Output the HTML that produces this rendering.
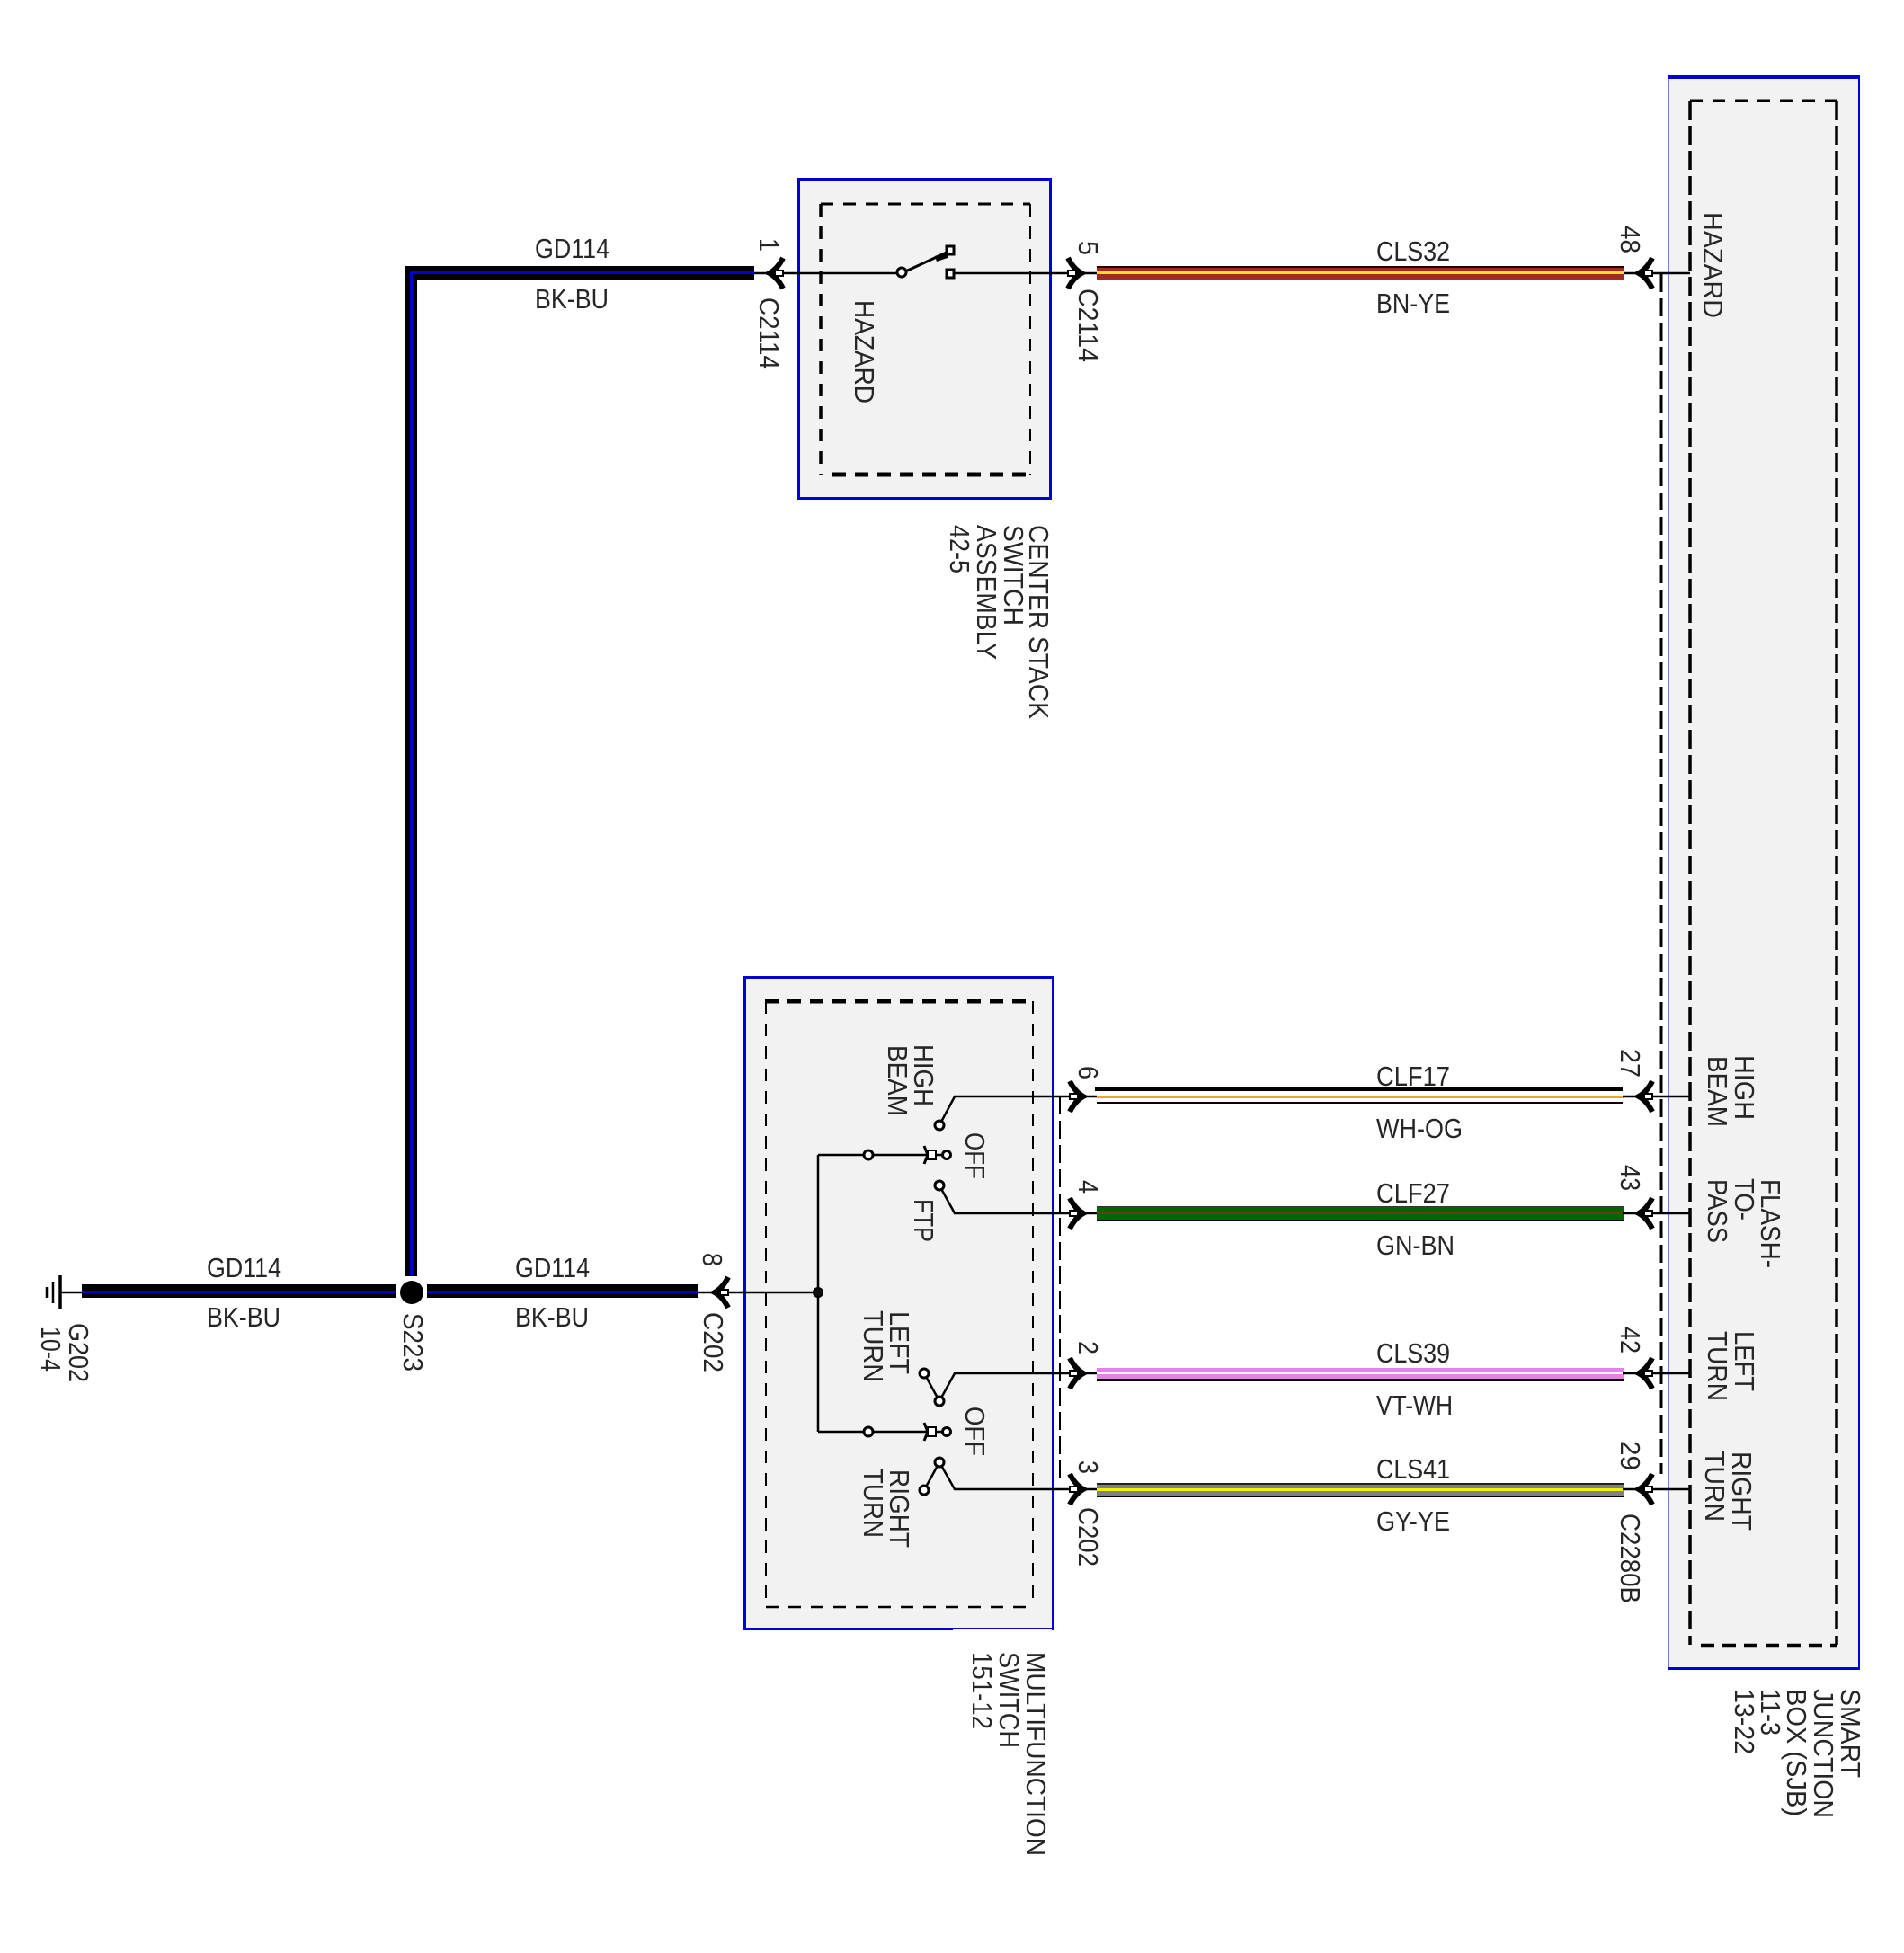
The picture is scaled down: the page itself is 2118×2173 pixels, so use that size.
<!DOCTYPE html>
<html><head><meta charset="utf-8"><style>
html,body{margin:0;padding:0;background:#fff}
svg{display:block}
text{font-family:"Liberation Sans",Arial,sans-serif;font-size:31px;fill:#262626}
</style></head><body>
<svg xmlns="http://www.w3.org/2000/svg" width="2118" height="2173" viewBox="0 0 2118 2173">
<defs>
<g id="ar"><path d="M-15 -17 Q-9 -5 0 0 Q-9 5 -15 17" fill="none" stroke="#000" stroke-width="6"/><path d="M-9 -4 L1 0 L-9 4Z" fill="#000" stroke="#000" stroke-width="3"/><rect x="-15" y="-3" width="9" height="6" fill="#fff" stroke="#000" stroke-width="2"/></g>
<g id="al"><path d="M15 -17 Q9 -5 0 0 Q9 5 15 17" fill="none" stroke="#000" stroke-width="6"/><path d="M9 -4 L-1 0 L9 4Z" fill="#000" stroke="#000" stroke-width="3"/><rect x="6" y="-3" width="9" height="6" fill="#fff" stroke="#000" stroke-width="2"/></g>
</defs>
<!-- boxes -->
<rect x="888" y="199" width="281" height="355" fill="#f2f2f2"/>
<rect x="827" y="1087" width="344" height="726" fill="#f2f2f2"/>
<rect x="1855" y="83" width="213" height="1775" fill="#f2f2f2"/>
<g fill="#0000d8" shape-rendering="crispEdges">
<rect x="887" y="198" width="283" height="3"/><rect x="887" y="553" width="283" height="3"/><rect x="887" y="198" width="3" height="358"/><rect x="1167" y="198" width="3" height="358"/>
<rect x="826" y="1086" width="346" height="3"/><rect x="826" y="1811" width="234" height="3"/><rect x="1060" y="1811" width="112" height="2"/><rect x="826" y="1086" width="4" height="728"/><rect x="1170" y="1086" width="2" height="728"/>
<rect x="1855" y="83" width="214" height="5"/><rect x="1855" y="1855" width="214" height="3"/><rect x="2067" y="83" width="2" height="1775"/>
</g>
<rect x="1855" y="83" width="1.5" height="1775" fill="#0000c8"/>
<!-- dashed -->
<g fill="none" stroke="#000" stroke-dasharray="14 11">
<path d="M913 227H1146" stroke-width="3"/><path d="M913 227V528" stroke-width="3.5"/><path d="M1146 227V528" stroke-width="2"/><path d="M926 528H1146" stroke-width="5" stroke-dasharray="15 10"/>
<path d="M851 1114H1149" stroke-width="5" stroke-dasharray="15 10"/><path d="M852 1114V1788" stroke-width="2"/><path d="M1149 1114V1788" stroke-width="2"/><path d="M852 1788H1149" stroke-width="2.5"/>
<path d="M1880 112H2043" stroke-width="3"/><path d="M1880 112V1830" stroke-width="3.5" stroke-dasharray="21 7"/><path d="M2043 112V1830" stroke-width="3.5" stroke-dasharray="21 7"/><path d="M1892 1831H2043" stroke-width="4.5" stroke-dasharray="15 9"/>
<path d="M1848 305V1640" stroke-width="3" stroke-dasharray="20 7"/><path d="M1179 1220V1650" stroke-width="2" stroke-dasharray="20 7"/>
</g>
<!-- thick wires -->
<g shape-rendering="crispEdges">
<rect x="450" y="296" width="389" height="15" fill="#000"/><rect x="450" y="296" width="14" height="1124" fill="#000"/>
<rect x="456" y="301" width="383" height="4" fill="#0000d0"/><rect x="456" y="301" width="3" height="1119" fill="#0000d0"/>
<rect x="91" y="1429" width="350" height="15" fill="#000"/><rect x="91" y="1436" width="350" height="3" fill="#0000c8"/>
<rect x="475" y="1429" width="302" height="15" fill="#000"/><rect x="475" y="1436" width="302" height="3" fill="#0000c8"/>
<rect x="1220" y="296" width="586" height="15" fill="#a52a1e"/><rect x="1220" y="296" width="586" height="2" fill="#200"/><rect x="1220" y="302" width="586" height="3" fill="#ffe020"/>
<rect x="1218" y="1210" width="587" height="4" fill="#000"/><rect x="1220" y="1219" width="586" height="3" fill="#e8a820"/><rect x="1220" y="1226" width="585" height="2" fill="#000"/>
<rect x="1220" y="1342" width="586" height="17" fill="#006400"/><rect x="1220" y="1342" width="586" height="1" fill="#333"/><rect x="1220" y="1357" width="586" height="2" fill="#000"/><rect x="1220" y="1349" width="586" height="2" fill="#6a3a1a"/>
<rect x="1220" y="1522" width="586" height="15" fill="#e880e8"/><rect x="1220" y="1527" width="586" height="2" fill="#fff"/><rect x="1220" y="1534" width="586" height="3" fill="#000"/>
<rect x="1220" y="1650" width="586" height="16" fill="#808080"/><rect x="1220" y="1650" width="586" height="2" fill="#222"/><rect x="1220" y="1664" width="586" height="2" fill="#000"/><rect x="1220" y="1656" width="586" height="3" fill="#f0f000"/>
</g>
<!-- thin wires -->
<g fill="none" stroke="#000" stroke-width="2.5">
<path d="M839 304H1003"/><path d="M1059 304H1220"/><path d="M1806 304H1880"/>
<path d="M68 1438H91"/><path d="M777 1438H910"/>
<path d="M1045 1252L1062 1220H1220"/><path d="M1045 1319L1062 1350H1220"/><path d="M1028 1528L1045 1559L1062 1528H1220"/><path d="M1028 1658L1045 1627L1062 1657H1220"/>
<path d="M1805 1220H1880"/><path d="M1805 1350H1880"/><path d="M1805 1528H1880"/><path d="M1805 1657H1880"/>
<path d="M910 1285V1593"/><path d="M910 1285H1048"/><path d="M910 1593H1048"/>
<path d="M67 1419V1456" stroke-width="3.5"/><path d="M59 1426V1450"/><path d="M52 1432V1444"/>
</g>
<!-- hazard switch -->
<path d="M1003 304L1057 279" stroke="#000" stroke-width="3"/><path d="M1040 285L1055 279L1054 287L1042 291Z" fill="#000"/>
<circle cx="1003" cy="303" r="5" fill="#fff" stroke="#000" stroke-width="3"/>
<rect x="1053" y="274" width="8" height="9" fill="#fff" stroke="#000" stroke-width="3"/><rect x="1053" y="300" width="8" height="9" fill="#fff" stroke="#000" stroke-width="3"/>
<!-- terminals -->
<g fill="#fff" stroke="#000" stroke-width="3">
<circle cx="1045" cy="1252" r="5"/><circle cx="1045" cy="1319" r="5"/><circle cx="1028" cy="1528" r="5"/><circle cx="1045" cy="1559" r="5"/><circle cx="1045" cy="1627" r="5"/><circle cx="1028" cy="1658" r="5"/>
<circle cx="966" cy="1285" r="5"/><circle cx="966" cy="1593" r="5"/><circle cx="1053" cy="1285" r="4.5"/><circle cx="1053" cy="1593" r="4.5"/>
</g>
<circle cx="910" cy="1438" r="5" fill="#111" stroke="#000" stroke-width="2"/>
<!-- small OFF connectors -->
<g fill="none" stroke="#000" stroke-width="3">
<path d="M1028 1275L1032 1285L1028 1295"/><path d="M1032 1280H1041V1290H1032Z" fill="#fff" stroke-width="2"/>
<path d="M1028 1583L1032 1593L1028 1603"/><path d="M1032 1588H1041V1598H1032Z" fill="#fff" stroke-width="2"/>
</g>
<!-- splice -->
<circle cx="458" cy="1438" r="17" fill="#fff"/><circle cx="458" cy="1438" r="13" fill="#000"/>
<!-- connectors -->
<use href="#ar" x="1203" y="304"/><use href="#ar" x="1205" y="1220"/><use href="#ar" x="1205" y="1350"/><use href="#ar" x="1205" y="1528"/><use href="#ar" x="1205" y="1657"/>
<use href="#al" x="856" y="304"/><use href="#al" x="795" y="1438"/><use href="#al" x="1823" y="304"/><use href="#al" x="1823" y="1220"/><use href="#al" x="1823" y="1350"/><use href="#al" x="1823" y="1528"/><use href="#al" x="1823" y="1657"/>
<!-- horizontal labels -->
<text x="595" y="287" textLength="83" lengthAdjust="spacingAndGlyphs">GD114</text>
<text x="595" y="343" textLength="82" lengthAdjust="spacingAndGlyphs">BK-BU</text>
<text x="230" y="1421" textLength="83" lengthAdjust="spacingAndGlyphs">GD114</text>
<text x="230" y="1476" textLength="82" lengthAdjust="spacingAndGlyphs">BK-BU</text>
<text x="573" y="1421" textLength="83" lengthAdjust="spacingAndGlyphs">GD114</text>
<text x="573" y="1476" textLength="82" lengthAdjust="spacingAndGlyphs">BK-BU</text>
<text x="1531" y="290" textLength="82" lengthAdjust="spacingAndGlyphs">CLS32</text>
<text x="1531" y="348" textLength="82" lengthAdjust="spacingAndGlyphs">BN-YE</text>
<text x="1531" y="1208" textLength="82" lengthAdjust="spacingAndGlyphs">CLF17</text>
<text x="1531" y="1266" textLength="96" lengthAdjust="spacingAndGlyphs">WH-OG</text>
<text x="1531" y="1338" textLength="82" lengthAdjust="spacingAndGlyphs">CLF27</text>
<text x="1531" y="1396" textLength="87" lengthAdjust="spacingAndGlyphs">GN-BN</text>
<text x="1531" y="1516" textLength="82" lengthAdjust="spacingAndGlyphs">CLS39</text>
<text x="1531" y="1574" textLength="85" lengthAdjust="spacingAndGlyphs">VT-WH</text>
<text x="1531" y="1645" textLength="82" lengthAdjust="spacingAndGlyphs">CLS41</text>
<text x="1531" y="1703" textLength="82" lengthAdjust="spacingAndGlyphs">GY-YE</text>
<!-- rotated labels -->
<text transform="translate(845,265) rotate(90)" textLength="15" lengthAdjust="spacingAndGlyphs">1</text>
<text transform="translate(845,331) rotate(90)" textLength="80" lengthAdjust="spacingAndGlyphs">C2114</text>
<text transform="translate(951,334) rotate(90)" textLength="115" lengthAdjust="spacingAndGlyphs">HAZARD</text>
<text transform="translate(1200,268) rotate(90)" textLength="16" lengthAdjust="spacingAndGlyphs">5</text>
<text transform="translate(1200,321) rotate(90)" textLength="82" lengthAdjust="spacingAndGlyphs">C2114</text>
<text transform="translate(1145,584) rotate(90)" textLength="216" lengthAdjust="spacingAndGlyphs">CENTER  STACK</text>
<text transform="translate(1117,584) rotate(90)" textLength="112" lengthAdjust="spacingAndGlyphs">SWITCH</text>
<text transform="translate(1087,584) rotate(90)" textLength="150" lengthAdjust="spacingAndGlyphs">ASSEMBLY</text>
<text transform="translate(1057,584) rotate(90)" textLength="54" lengthAdjust="spacingAndGlyphs">42-5</text>
<text transform="translate(1017,1162) rotate(90)" textLength="69" lengthAdjust="spacingAndGlyphs">HIGH</text>
<text transform="translate(988,1163) rotate(90)" textLength="79" lengthAdjust="spacingAndGlyphs">BEAM</text>
<text transform="translate(1074,1260) rotate(90)" textLength="52" lengthAdjust="spacingAndGlyphs">OFF</text>
<text transform="translate(1017,1334) rotate(90)" textLength="48" lengthAdjust="spacingAndGlyphs">FTP</text>
<text transform="translate(990,1459) rotate(90)" textLength="70" lengthAdjust="spacingAndGlyphs">LEFT</text>
<text transform="translate(961,1458) rotate(90)" textLength="80" lengthAdjust="spacingAndGlyphs">TURN</text>
<text transform="translate(1074,1565) rotate(90)" textLength="55" lengthAdjust="spacingAndGlyphs">OFF</text>
<text transform="translate(990,1635) rotate(90)" textLength="87" lengthAdjust="spacingAndGlyphs">RIGHT</text>
<text transform="translate(961,1634) rotate(90)" textLength="77" lengthAdjust="spacingAndGlyphs">TURN</text>
<text transform="translate(1200,1186) rotate(90)" textLength="15" lengthAdjust="spacingAndGlyphs">6</text>
<text transform="translate(1200,1313) rotate(90)" textLength="15" lengthAdjust="spacingAndGlyphs">4</text>
<text transform="translate(1200,1492) rotate(90)" textLength="15" lengthAdjust="spacingAndGlyphs">2</text>
<text transform="translate(1200,1625) rotate(90)" textLength="15" lengthAdjust="spacingAndGlyphs">3</text>
<text transform="translate(1200,1677) rotate(90)" textLength="66" lengthAdjust="spacingAndGlyphs">C202</text>
<text transform="translate(782,1394) rotate(90)" textLength="15" lengthAdjust="spacingAndGlyphs">8</text>
<text transform="translate(783,1460) rotate(90)" textLength="67" lengthAdjust="spacingAndGlyphs">C202</text>
<text transform="translate(1142,1838) rotate(90)" textLength="227" lengthAdjust="spacingAndGlyphs">MULTIFUNCTION</text>
<text transform="translate(1112,1838) rotate(90)" textLength="107" lengthAdjust="spacingAndGlyphs">SWITCH</text>
<text transform="translate(1082,1838) rotate(90)" textLength="86" lengthAdjust="spacingAndGlyphs">151-12</text>
<text transform="translate(77,1472) rotate(90)" textLength="66" lengthAdjust="spacingAndGlyphs">G202</text>
<text transform="translate(46,1476) rotate(90)" textLength="50" lengthAdjust="spacingAndGlyphs">10-4</text>
<text transform="translate(449,1461) rotate(90)" textLength="65" lengthAdjust="spacingAndGlyphs">S223</text>
<text transform="translate(1803,251) rotate(90)" textLength="31" lengthAdjust="spacingAndGlyphs">48</text>
<text transform="translate(1895,236) rotate(90)" textLength="118" lengthAdjust="spacingAndGlyphs">HAZARD</text>
<text transform="translate(1803,1167) rotate(90)" textLength="32" lengthAdjust="spacingAndGlyphs">27</text>
<text transform="translate(1930,1174) rotate(90)" textLength="72" lengthAdjust="spacingAndGlyphs">HIGH</text>
<text transform="translate(1900,1175) rotate(90)" textLength="79" lengthAdjust="spacingAndGlyphs">BEAM</text>
<text transform="translate(1803,1296) rotate(90)" textLength="29" lengthAdjust="spacingAndGlyphs">43</text>
<text transform="translate(1959,1312) rotate(90)" textLength="99" lengthAdjust="spacingAndGlyphs">FLASH-</text>
<text transform="translate(1930,1311) rotate(90)" textLength="47" lengthAdjust="spacingAndGlyphs">TO-</text>
<text transform="translate(1900,1312) rotate(90)" textLength="71" lengthAdjust="spacingAndGlyphs">PASS</text>
<text transform="translate(1803,1476) rotate(90)" textLength="30" lengthAdjust="spacingAndGlyphs">42</text>
<text transform="translate(1930,1481) rotate(90)" textLength="67" lengthAdjust="spacingAndGlyphs">LEFT</text>
<text transform="translate(1900,1481) rotate(90)" textLength="78" lengthAdjust="spacingAndGlyphs">TURN</text>
<text transform="translate(1803,1603) rotate(90)" textLength="33" lengthAdjust="spacingAndGlyphs">29</text>
<text transform="translate(1927,1615) rotate(90)" textLength="88" lengthAdjust="spacingAndGlyphs">RIGHT</text>
<text transform="translate(1897,1614) rotate(90)" textLength="79" lengthAdjust="spacingAndGlyphs">TURN</text>
<text transform="translate(1803,1684) rotate(90)" textLength="100" lengthAdjust="spacingAndGlyphs">C2280B</text>
<text transform="translate(2048,1879) rotate(90)" textLength="99" lengthAdjust="spacingAndGlyphs">SMART</text>
<text transform="translate(2018,1879) rotate(90)" textLength="144" lengthAdjust="spacingAndGlyphs">JUNCTION</text>
<text transform="translate(1988,1879) rotate(90)" textLength="142" lengthAdjust="spacingAndGlyphs">BOX (SJB)</text>
<text transform="translate(1959,1879) rotate(90)" textLength="52" lengthAdjust="spacingAndGlyphs">11-3</text>
<text transform="translate(1930,1879) rotate(90)" textLength="73" lengthAdjust="spacingAndGlyphs">13-22</text>
</svg>
</body></html>
